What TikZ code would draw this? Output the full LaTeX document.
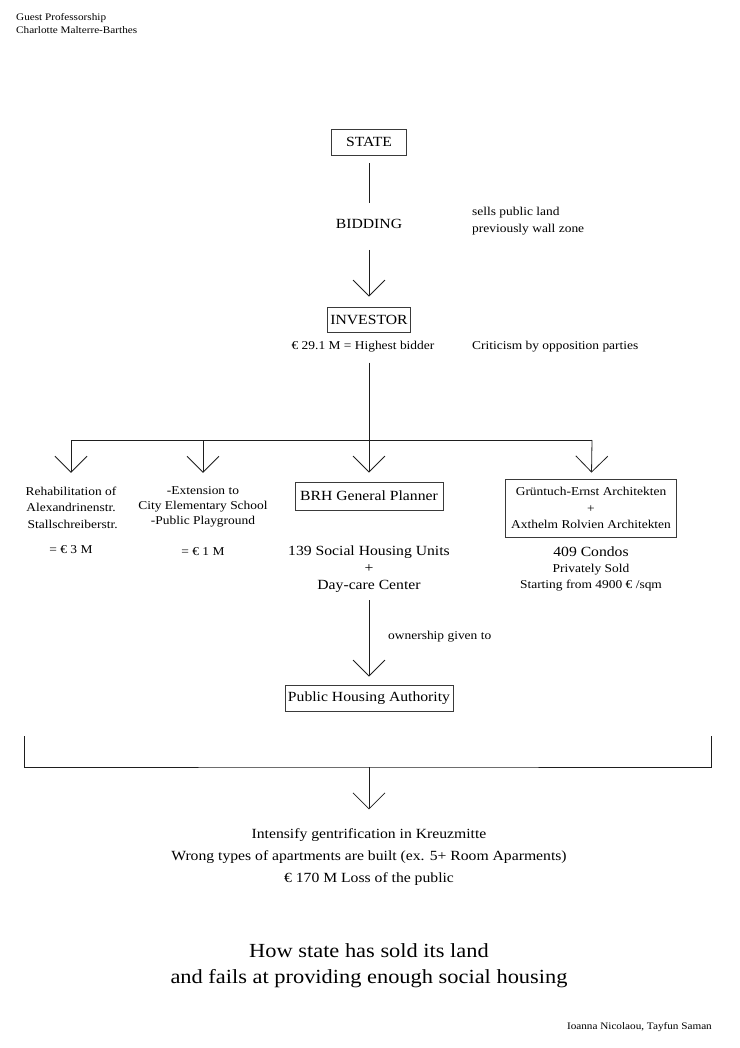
\documentclass[tikz,border=0pt]{standalone}
\usepackage{fontspec}
\setmainfont[FakeStretch=1.12]{Liberation Serif}
\usepackage{tikz}
\usetikzlibrary{positioning,arrows.meta}
\definecolor{ink1}{HTML}{1E1E1E}
\definecolor{frame1}{HTML}{3A3A3A}

\begin{document}
\begin{tikzpicture}[
    x=1pt, y=-1pt,
    >={Straight Barb[length=16pt,width=32pt]},
    box/.style={draw=frame1, line width=0.8pt, inner sep=0pt,
                font=\fontsize{14}{16}\selectfont},
    txt/.style={inner sep=0pt, align=center,
                font=\fontsize{12}{16.5}\selectfont},
    big/.style={inner sep=0pt, align=center,
                font=\fontsize{14}{17}\selectfont},
    note/.style={inner sep=0pt, align=left, anchor=west,
                 font=\fontsize{12}{17}\selectfont},
    head/.style={inner sep=0pt, anchor=west,
                 font=\fontsize{10}{12}\selectfont},
    arr/.style={->, line width=0.8pt, ink1},
    link/.style={line width=0.8pt, ink1},
]
\useasboundingbox (0,0) rectangle (739,1048);

% header
\node[head] (prof) at (16,18) {Guest Professorship};
\node[head] (chair) at (16,30) {Charlotte Malterre-Barthes};

% state and bidding
\node[box, minimum width=75pt, minimum height=26pt] (state) at (369,142) {STATE};
\node[big] (bid) at (369,224) {BIDDING};
\node[note] (sells) at (472,221.5) {sells public land\\previously wall zone};
\node[box, minimum width=83pt, minimum height=25pt] (inv) at (369,320) {INVESTOR};
\node[txt] (price) at (363,347) {€ 29.1 M = Highest bidder};
\node[note] (crit) at (472,347) {Criticism by opposition parties};

\draw[link, shorten <=8pt, shorten >=16pt] (state) -- (bid);
\draw[arr, shorten <=21pt, shorten >=10.5pt] (bid) -- (inv);

% branches
\coordinate (bus1) at (71,440);
\coordinate (bus2) at (203,440);
\coordinate (fork) at (369,440);
\coordinate (bus4) at (592,440);

\node[txt] (rehab) at (71,507.5)
    {Rehabilitation of\\Alexandrinenstr.\\\ Stallschreiberstr.};
\node[txt] (rehabc) at (71,550) {= € 3 M};
\node[txt, font=\fontsize{12}{15}\selectfont] (ext) at (203,507)
    {-Extension to\\City Elementary School\\-Public Playground};
\node[txt] (extc) at (203,552) {= € 1 M};
\node[box, minimum width=148pt, minimum height=28pt] (brh) at (369,496) {BRH General Planner};
\node[box, align=center, font=\fontsize{12}{16.5}\selectfont,
      minimum width=171pt, minimum height=58pt] (gru) at (591,508)
    {Grüntuch-Ernst Architekten\\+\\Axthelm Rolvien Architekten};

\draw[link, shorten <=10pt] (fork |- price.south) -- (fork);
\draw[link] (bus1) -- (bus4);
\draw[arr, shorten >=13.7pt] (bus1) -- (rehab);
\draw[arr, shorten >=13.7pt] (bus2) -- (ext);
\draw[arr, shorten >=9pt] (fork) -- (brh);
\draw[arr, shorten >=6pt] (bus4) -- (gru);

% outcomes
\node[big] (social) at (369,569.5) {139 Social Housing Units\\+\\Day-care Center};
\node[txt, font=\fontsize{12}{16}\selectfont] (condo) at (591,568.5)
    {{\fontsize{14}{16}\selectfont 409 Condos}\\Privately Sold\\Starting from 4900 € /sqm};

\node[note] (own) at (388,637) {ownership given to};
\node[box, minimum width=168pt, minimum height=26pt] (pha) at (369,698) {Public Housing Authority};
\draw[arr, shorten <=7pt, shorten >=8pt] (social) -- (pha);

% bracket and result
\coordinate (brL) at (24,736);
\coordinate (brR) at (711,736);
\coordinate (join) at (369,767);
\draw[link] (brL) |- (join) -| (brR);

\node[big, font=\fontsize{14}{22}\selectfont] (result) at (369,857)
    {Intensify gentrification in Kreuzmitte\\
     Wrong types of apartments are built (ex. 5+ Room Aparments)\\
     € 170 M Loss of the public};
\draw[arr, shorten >=19pt] (join) -- (result);

% title
\node[inner sep=0pt, align=center, font=\fontsize{20}{26}\selectfont] (title) at (369,966)
    {How state has sold its land\\and fails at providing enough social housing};
\node[head, anchor=east] (credit) at (712,1027) {Ioanna Nicolaou, Tayfun Saman};
\end{tikzpicture}
\end{document}
